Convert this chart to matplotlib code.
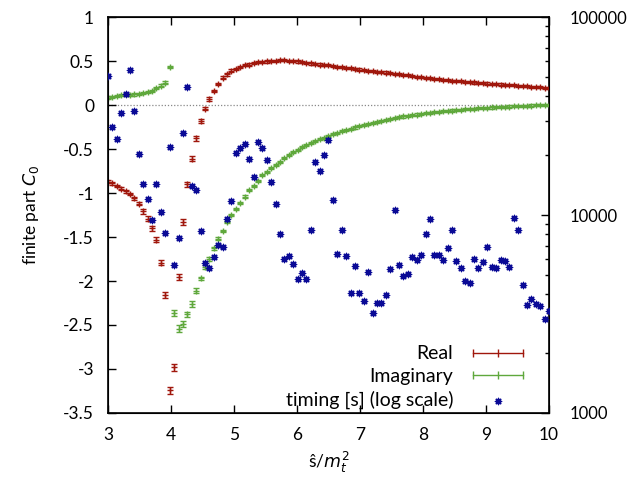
import matplotlib
matplotlib.use("Agg")
import matplotlib.pyplot as plt
from matplotlib.lines import Line2D
from matplotlib.ticker import FixedLocator, FuncFormatter, LogLocator, NullFormatter

plt.rcParams["font.family"] = ["Lato", "DejaVu Sans"]
plt.rcParams["mathtext.fontset"] = "dejavusans"
plt.rcParams["axes.unicode_minus"] = False

# s-hat / m_t^2 grid (step 0.07)
s_vals = [round(3.0 + 0.07 * i, 2) for i in range(101)]

real_part = [
    -0.87, -0.89, -0.92, -0.95, -0.98, -1.01, -1.06, -1.12, -1.21, -1.29,
    -1.40, -1.53, -1.79, -2.16, -3.24, -2.98, -1.95, -1.33, -0.90, -0.61,
    -0.38, -0.18, -0.04, 0.07, 0.16, 0.24, 0.31, 0.35, 0.39, 0.41,
    0.43, 0.45, 0.46, 0.475, 0.485, 0.49, 0.495, 0.50, 0.505, 0.507,
    0.507, 0.505, 0.50, 0.495, 0.488, 0.48, 0.472, 0.465, 0.46, 0.455,
    0.45, 0.443, 0.436, 0.43, 0.424, 0.416, 0.41, 0.403, 0.396, 0.39,
    0.385, 0.38, 0.375, 0.369, 0.362, 0.356, 0.35, 0.344, 0.337, 0.33,
    0.323, 0.316, 0.31, 0.304, 0.298, 0.292, 0.287, 0.282, 0.277, 0.272,
    0.268, 0.264, 0.26, 0.256, 0.252, 0.248, 0.244, 0.24, 0.236, 0.233,
    0.23, 0.226, 0.223, 0.219, 0.216, 0.212, 0.208, 0.205, 0.201, 0.197,
    0.193,
]
real_err = [
    0.015, 0.015, 0.015, 0.015, 0.015, 0.015, 0.02, 0.02, 0.025, 0.025,
    0.03, 0.03, 0.03, 0.035, 0.04, 0.04, 0.035, 0.03, 0.03, 0.025,
    0.025, 0.02, 0.02, 0.02, 0.015, 0.015, 0.015, 0.015, 0.015, 0.012,
    0.012, 0.012, 0.012, 0.012, 0.012, 0.012, 0.012, 0.012, 0.012, 0.012,
    0.012, 0.012, 0.012, 0.012, 0.012, 0.012, 0.012, 0.012, 0.012, 0.012,
    0.012, 0.012, 0.012, 0.012, 0.012, 0.012, 0.012, 0.012, 0.012, 0.012,
    0.012, 0.012, 0.012, 0.012, 0.012, 0.012, 0.012, 0.012, 0.012, 0.012,
    0.012, 0.012, 0.012, 0.012, 0.012, 0.012, 0.012, 0.012, 0.012, 0.012,
    0.012, 0.012, 0.012, 0.012, 0.012, 0.012, 0.012, 0.012, 0.012, 0.012,
    0.012, 0.012, 0.012, 0.012, 0.012, 0.012, 0.012, 0.012, 0.012, 0.012,
    0.012,
]

imag_part = [
    0.085, 0.096, 0.10, 0.11, 0.12, 0.115, 0.12, 0.13, 0.14, 0.15,
    0.16, 0.19, 0.22, 0.255, 0.43, -2.36, -2.54, -2.49, -2.38, -2.26,
    -2.11, -1.97, -1.84, -1.75, -1.63, -1.52, -1.43, -1.33, -1.25, -1.18,
    -1.11, -1.04, -0.97, -0.92, -0.86, -0.80, -0.76, -0.72, -0.68, -0.645,
    -0.60, -0.565, -0.535, -0.51, -0.48, -0.455, -0.43, -0.41, -0.39, -0.37,
    -0.35, -0.33, -0.315, -0.30, -0.285, -0.27, -0.255, -0.24, -0.228, -0.215,
    -0.203, -0.19, -0.178, -0.167, -0.157, -0.147, -0.138, -0.13, -0.122, -0.115,
    -0.108, -0.10, -0.095, -0.089, -0.083, -0.078, -0.073, -0.068, -0.063, -0.058,
    -0.054, -0.05, -0.046, -0.042, -0.038, -0.034, -0.031, -0.028, -0.025, -0.022,
    -0.019, -0.017, -0.014, -0.012, -0.01, -0.008, -0.006, -0.004, -0.002, 0.0,
    0.002,
]
imag_err = [
    0.012, 0.012, 0.012, 0.012, 0.012, 0.012, 0.012, 0.012, 0.012, 0.012,
    0.012, 0.012, 0.015, 0.015, 0.015, 0.035, 0.035, 0.035, 0.03, 0.03,
    0.025, 0.02, 0.02, 0.02, 0.015, 0.015, 0.015, 0.012, 0.012, 0.012,
    0.012, 0.012, 0.012, 0.012, 0.012, 0.012, 0.012, 0.012, 0.012, 0.012,
    0.012, 0.012, 0.012, 0.012, 0.012, 0.012, 0.012, 0.012, 0.012, 0.012,
    0.012, 0.012, 0.012, 0.012, 0.012, 0.012, 0.012, 0.012, 0.012, 0.012,
    0.012, 0.012, 0.012, 0.012, 0.012, 0.012, 0.012, 0.012, 0.012, 0.012,
    0.012, 0.012, 0.012, 0.012, 0.012, 0.012, 0.012, 0.012, 0.012, 0.012,
    0.012, 0.012, 0.012, 0.012, 0.012, 0.012, 0.012, 0.012, 0.012, 0.012,
    0.012, 0.012, 0.012, 0.012, 0.012, 0.012, 0.012, 0.012, 0.012, 0.012,
    0.012,
]

# run time per point in seconds (right axis, log scale)
timing = [
    50500, 27800, 24120, 32620, 40690, 53800, 33390, 20260, 14290, 12040,
    9470, 14290, 10320, 8140, 22130, 5590, 7650, 25850, 44150, 14060,
    13320, 8300, 5740, 5380, 6115, 7055, 6920, 9580, 11730, 20490,
    21720, 22830, 19070, 15610, 23290, 21720, 18890, 14730, 11360, 7990,
    5975, 6207, 5636, 4751, 5094, 4735, 8430, 18590, 16680, 20090,
    24010, 11870, 6330, 8370, 6186, 4023, 5544, 4023, 3665, 5170,
    3188, 3606, 3606, 3930, 5318, 10540, 5578, 4902, 5052, 6157,
    5946, 6281, 7990, 9524, 6259, 6259, 5905, 6836, 8430, 5838,
    5380, 4626, 4520, 6016, 5418, 5770, 6920, 5482, 5380, 5926,
    5838, 5444, 9656, 8430, 4416, 3499, 3752, 3552, 3459, 2973,
    3275,
]

RED = "#a0170c"
GREEN = "#5fa83c"
BLUE = "#0a0a96"

fig = plt.figure(figsize=(6.35, 4.78), dpi=100)
ax = fig.add_axes([0.170, 0.136, 0.6946, 0.8284])

ax.axhline(0, color="#888888", lw=0.9, ls=(0, (1, 1.5)), zorder=1)
ax.errorbar(s_vals, real_part, yerr=real_err, fmt="+", color=RED, ms=5,
            mew=1.0, elinewidth=1.0, capsize=2.5, capthick=1.0, zorder=3)
ax.errorbar(s_vals, imag_part, yerr=imag_err, fmt="+", color=GREEN, ms=5,
            mew=1.0, elinewidth=1.0, capsize=2.5, capthick=1.0, zorder=3)

ax.set_xlim(3, 10)
ax.set_ylim(-3.5, 1)
ax.xaxis.set_major_locator(FixedLocator([3, 4, 5, 6, 7, 8, 9, 10]))
ax.yaxis.set_major_locator(FixedLocator([-3.5, -3, -2.5, -2, -1.5, -1, -0.5, 0, 0.5, 1]))
ax.yaxis.set_major_formatter(FuncFormatter(lambda v, p: f"{v:g}"))
ax.tick_params(axis="x", direction="in", length=6, width=1, top=True,
               labelsize=12.5, pad=10)
ax.tick_params(axis="y", direction="in", length=6, width=1, right=False,
               labelsize=12.5, pad=10)
for sp in ax.spines.values():
    sp.set_linewidth(1.2)
ax.set_xlabel("ŝ/$m_t^2$", fontsize=12.5, labelpad=5)
ax.set_ylabel("finite part $C_0$", fontsize=12.5, labelpad=16)

ax2 = ax.twinx()
ax2.scatter(s_vals, timing, marker=(8, 2, 0), s=20, color=BLUE,
            linewidths=1.0, zorder=4)
ax2.set_yscale("log")
ax2.set_ylim(1000, 100000)
ax2.yaxis.set_major_locator(LogLocator(base=10, numticks=5))
ax2.yaxis.set_major_formatter(FuncFormatter(lambda v, p: f"{v:.0f}"))
ax2.yaxis.set_minor_locator(LogLocator(base=10, subs=range(2, 10), numticks=10))
ax2.yaxis.set_minor_formatter(NullFormatter())
ax2.tick_params(axis="y", which="major", direction="in", length=6, width=1,
                labelsize=12, pad=15)
ax2.tick_params(axis="y", which="minor", direction="in", length=3, width=1)

handles = [
    Line2D([], [], color=RED, lw=1.0, marker="|", ms=6, mew=1.0),
    Line2D([], [], color=GREEN, lw=1.0, marker="|", ms=6, mew=1.0),
    ax2.scatter([], [], marker=(8, 2, 0), s=20, color=BLUE, linewidths=1.0),
]
labels = ["Real", "Imaginary", "timing [s] (log scale)"]
ax2.legend(handles, labels, loc="lower right", bbox_to_anchor=(0.995, -0.035),
           frameon=False, markerfirst=False, numpoints=3, scatterpoints=1,
           handlelength=3.2, handletextpad=0.7, labelspacing=0.3,
           fontsize=14)

fig.savefig("out.png", dpi=100)
